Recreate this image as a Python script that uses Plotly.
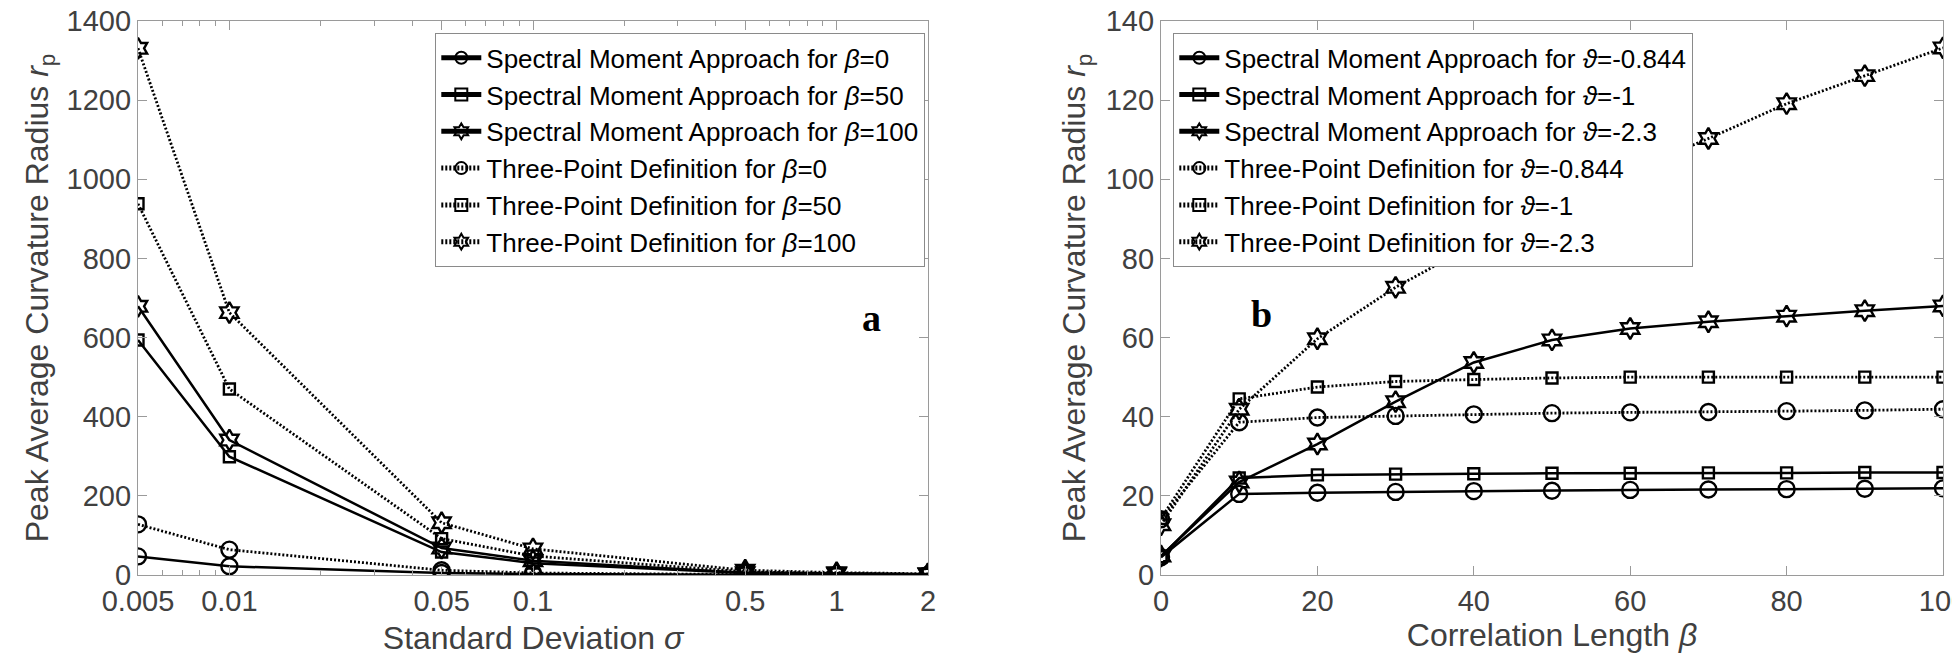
import plotly.graph_objects as go
import math

# ---------------- data ----------------
sigma = [0.005, 0.01, 0.05, 0.1, 0.5, 1, 2]
sigma_ticktext = ["0.005", "0.01", "0.05", "0.1", "0.5", "1", "2"]
sm_beta0 = [47, 22, 5, 2.5, 0.6, 0.3, 0.15]
sm_beta50 = [594, 299, 58, 30, 5, 3, 1.5]
sm_beta100 = [679, 341, 68, 36, 6, 3.5, 2]
tp_beta0 = [128, 64, 12, 5, 1.2, 0.6, 0.3]
tp_beta50 = [938, 470, 92, 48, 8, 4, 2]
tp_beta100 = [1331, 663, 132, 66, 12, 6, 3]

beta = [0, 10, 20, 30, 40, 50, 60, 70, 80, 90, 100]
sm_t0844 = [4.5, 20.5, 20.8, 21.0, 21.2, 21.3, 21.5, 21.6, 21.7, 21.8, 21.9]
sm_t1 = [4.6, 24.5, 25.3, 25.5, 25.6, 25.7, 25.7, 25.8, 25.8, 25.9, 25.9]
sm_t23 = [4.8, 23.5, 33.1, 43.8, 53.7, 59.4, 62.3, 64.0, 65.4, 66.8, 68.0]
tp_t0844 = [14.1, 38.6, 39.8, 40.2, 40.6, 40.9, 41.1, 41.2, 41.4, 41.6, 41.9]
tp_t1 = [14.3, 44.5, 47.5, 48.9, 49.4, 49.8, 50.0, 50.0, 50.0, 50.0, 50.0]
tp_t23 = [12.7, 41.9, 59.7, 72.7, 83.5, 93.0, 102.0, 110.3, 119.1, 126.2, 133.2]

left_names = [
    "Spectral Moment Approach for <i>β</i>=0",
    "Spectral Moment Approach for <i>β</i>=50",
    "Spectral Moment Approach for <i>β</i>=100",
    "Three-Point Definition for <i>β</i>=0",
    "Three-Point Definition for <i>β</i>=50",
    "Three-Point Definition for <i>β</i>=100",
]
right_names = [
    "Spectral Moment Approach for <i>ϑ</i>=-0.844",
    "Spectral Moment Approach for <i>ϑ</i>=-1",
    "Spectral Moment Approach for <i>ϑ</i>=-2.3",
    "Three-Point Definition for <i>ϑ</i>=-0.844",
    "Three-Point Definition for <i>ϑ</i>=-1",
    "Three-Point Definition for <i>ϑ</i>=-2.3",
]

# ---------------- styling ----------------
W, H = 1960, 660
FONT = "Liberation Sans, Arial, sans-serif"
TXT = "#404040"
AXC = "#9a9a9a"
symbols = ["circle-open", "square-open", "hexagram-open"]
msizes = [16, 11, 16]
DOT = "2px,2px"

fig = go.Figure()


def add(x, y, name, k, solid, xa, ya, leg):
    fig.add_trace(go.Scatter(
        x=x, y=y, name=name, mode="lines+markers",
        xaxis=xa, yaxis=ya, legend=leg,
        line=dict(color="black", width=2.5 if solid else 2.8,
                  dash="solid" if solid else DOT),
        marker=dict(symbol=symbols[k], size=msizes[k], color="black",
                    line=dict(color="black", width=2.4)),
    ))


left_sm = [sm_beta0, sm_beta50, sm_beta100]
left_tp = [tp_beta0, tp_beta50, tp_beta100]
for k in range(3):
    add(sigma, left_sm[k], left_names[k], k, True, "x", "y", "legend")
for k in range(3):
    add(sigma, left_tp[k], left_names[3 + k], k, False, "x", "y", "legend")

right_sm = [sm_t0844, sm_t1, sm_t23]
right_tp = [tp_t0844, tp_t1, tp_t23]
for k in range(3):
    add(beta, right_sm[k], right_names[k], k, True, "x2", "y2", "legend2")
for k in range(3):
    add(beta, right_tp[k], right_names[3 + k], k, False, "x2", "y2", "legend2")

# plot-area geometry in pixels
L1, R1 = 130, 920
L2, R2 = 1153, 1935
TOP, BOT = 13, 567
dom_y = [1 - BOT / H, 1 - TOP / H]

minor_vals = [m * 10 ** e for e in (-3, -2, -1, 0) for m in range(2, 10)
              if 0.005 <= m * 10 ** e <= 2]

common_axis = dict(
    showline=True, linecolor=AXC, linewidth=1.3, mirror="ticks",
    ticks="inside", ticklen=9, tickcolor=AXC, tickwidth=1.2,
    showgrid=False, zeroline=False, automargin=False,
    ticklabeloverflow="allow",
    tickfont=dict(family=FONT, size=29, color=TXT),
)
title_font = dict(family=FONT, size=32, color=TXT)

ytitle = "Peak Average Curvature Radius <i>r</i><sub>p</sub>"
legend_style = dict(
    yanchor="top",
    bgcolor="white", bordercolor="#8a8a8a", borderwidth=1.3,
    font=dict(family=FONT, size=26, color="black"),
    itemwidth=40, tracegroupgap=0, itemsizing="constant",
)

fig.update_layout(
    width=W, height=H,
    margin=dict(l=0, r=0, t=0, b=0, pad=0),
    paper_bgcolor="white", plot_bgcolor="white",
    showlegend=True,
    font=dict(family=FONT, color=TXT),
    xaxis=dict(
        common_axis, domain=[L1 / W, R1 / W], type="log",
        range=[math.log10(0.005), math.log10(2)],
        tickmode="array", tickvals=sigma, ticktext=sigma_ticktext,
        minor=dict(tickmode="array", tickvals=minor_vals, ticks="inside",
                   ticklen=5, tickcolor=AXC, showgrid=False),
        title=dict(text="Standard Deviation <i>σ</i>", font=title_font, standoff=10),
        anchor="y",
    ),
    yaxis=dict(
        common_axis, domain=dom_y, range=[0, 1400], tickmode="array",
        tickvals=[0, 200, 400, 600, 800, 1000, 1200, 1400],
        title=dict(text=ytitle, font=title_font, standoff=8),
        anchor="x",
    ),
    xaxis2=dict(
        common_axis, domain=[L2 / W, R2 / W], range=[0, 100],
        tickmode="array", tickvals=[0, 20, 40, 60, 80, 100],
        title=dict(text="Correlation Length <i>β</i>", font=title_font, standoff=4),
        anchor="y2",
    ),
    yaxis2=dict(
        common_axis, domain=dom_y, range=[0, 140], tickmode="array",
        tickvals=[0, 20, 40, 60, 80, 100, 120, 140],
        title=dict(text=ytitle, font=title_font, standoff=10),
        anchor="x2",
    ),
    legend=dict(legend_style, x=917 / W, xanchor="right", y=1 - 25 / H),
    legend2=dict(legend_style, x=1165 / W, xanchor="left", y=1 - 25 / H),
    annotations=[
        dict(text="<b>a</b>", x=math.log10(1.3), y=650, xref="x", yref="y",
             showarrow=False, font=dict(family="Liberation Serif, Times New Roman, serif",
                                        size=38, color="black")),
        dict(text="<b>b</b>", x=12.8, y=66, xref="x2", yref="y2",
             showarrow=False, font=dict(family="Liberation Serif, Times New Roman, serif",
                                        size=38, color="black")),
    ],
)

fig.write_html("out.html")
